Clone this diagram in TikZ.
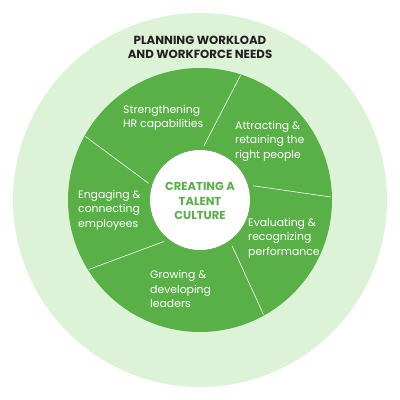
\documentclass[tikz,border=0pt]{standalone}
\usepackage{fontspec}
\setmainfont{Poppins}
\usepackage{tikz}
\usetikzlibrary{calc}
\definecolor{ringgreen}{RGB}{88,176,70}
\definecolor{halogreen}{RGB}{221,243,216}
\definecolor{titlegray}{RGB}{35,31,32}

\begin{document}
\begin{tikzpicture}[
  x=1bp, y=1bp,
  every node/.style={inner sep=0pt, font=\fontsize{10.9}{14.4}\selectfont},
  halo/.style   ={fill=halogreen, draw=none},
  ring/.style   ={fill=ringgreen, draw=none},
  hub/.style    ={fill=white, draw=none},
  divider/.style={draw=white, line width=0.7bp, opacity=0.85},
  seg/.style    ={text=white, align=left, anchor=west},
  hubtxt/.style ={text=ringgreen, align=center,
                  font=\fontsize{11.6}{14.4}\selectfont\bfseries},
  ttl/.style    ={text=titlegray, align=center,
                  font=\fontsize{11.8}{14}\selectfont\bfseries}]

\useasboundingbox (0,0) rectangle (400,400);
\coordinate (ctr) at (200,200);

% the three discs
\fill[halo] (ctr) circle[radius=187];
\fill[ring] (ctr) circle[radius=132];
\fill[hub]  (ctr) circle[radius=50];

% the five sectors of the ring
\draw[divider] ($(ctr)+(86:54)$)  -- ($(ctr)+(72:131)$);
\draw[divider] ($(ctr)+(15:55)$)  -- ($(ctr)+(1.3:131)$);
\draw[divider] ($(ctr)+(-55:56)$) -- ($(ctr)+(-61:131)$);
\draw[divider] ($(ctr)+(229:55)$) -- ($(ctr)+(212:131)$);
\draw[divider] ($(ctr)+(162:54)$) -- ($(ctr)+(151:131)$);

\node[ttl] (plan) at (200,353) {PLANNING WORKLOAD\\AND WORKFORCE NEEDS};
\node[hubtxt] (core) at (200,199) {CREATING A\\TALENT\\CULTURE};

\node[seg] (hrcap)  at (123,282) {Strengthening\\HR capabilities};
\node[seg] (attr)   at (235,259) {Attracting \&\\retaining the\\right people};
\node[seg] (evalu)  at (248,162) {Evaluating \&\\recognizing\\performance};
\node[seg] (grow)   at (150,111) {Growing \&\\developing\\leaders};
\node[seg] (engage) at (78,190)  {Engaging \&\\connecting\\employees};

\end{tikzpicture}
\end{document}
